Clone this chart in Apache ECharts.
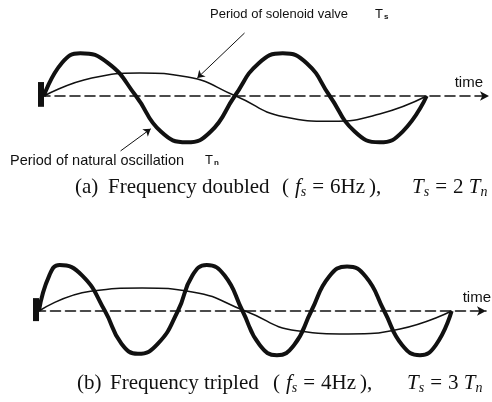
<!DOCTYPE html>
<html>
<head>
<meta charset="utf-8">
<title>Period of solenoid valve vs natural oscillation</title>
<script src="https://cdn.jsdelivr.net/npm/echarts@6.0.0/dist/echarts.min.js"></script>
<style>
  html, body { margin: 0; padding: 0; background: #fff; }
  #chart { width: 492px; height: 402px; }
</style>
</head>
<body>
<div id="chart"></div>
<script>
// time is in units of Tn, amplitude is relative to the natural oscillation peak

// (a) frequency doubled, Ts = 2 Tn
const naturalA = [[0, 0], [0.095, 0.74], [0.19, 0.95], [0.335, 0.73], [0.48, 0], [0.61, -0.79],
  [0.745, -1.03], [0.87, -0.79], [0.995, 0], [1.12, 0.73], [1.245, 0.95], [1.37, 0.73],
  [1.49, 0], [1.62, -0.79], [1.75, -1.03], [1.87, -0.79], [1.995, 0]]
const valveA = [[0, 0], [0.25, 0.4], [0.5, 0.51], [0.75, 0.42], [1.0, 0],
  [1.25, -0.46], [1.5, -0.56], [1.75, -0.4], [1.995, 0]]

// (b) frequency tripled, Ts = 3 Tn
const naturalB = [[0, 0], [0.075, 0.77], [0.15, 1.0], [0.315, 0.77], [0.48, 0], [0.6, -0.71],
  [0.72, -0.93], [0.865, -0.71], [1.01, 0], [1.115, 0.77], [1.22, 1.0], [1.35, 0.77],
  [1.48, 0], [1.605, -0.74], [1.73, -0.96], [1.855, -0.74], [1.98, 0], [2.11, 0.75],
  [2.24, 0.97], [2.375, 0.75], [2.51, 0], [2.64, -0.74], [2.77, -0.96], [2.885, -0.74], [3.0, 0]]
const valveB = [[0, 0], [0.375, 0.43], [0.75, 0.5], [1.125, 0.41], [1.5, 0],
  [1.875, -0.43], [2.25, -0.5], [2.625, -0.39], [3.0, 0]]

// start marks and leader arrows (same units)
const startBarA = [[-0.016, -0.24], [-0.016, 0.31]]
const startBarB = [[-0.022, -0.22], [-0.022, 0.28]]
const valveLeaderA = [[1.046, 1.4], [0.8, 0.4]]
const naturalLeaderA = [[0.4, -1.22], [0.557, -0.73]]

const timeName = 'time'
const sans = '"Liberation Sans", Arial, sans-serif'
const serif = '"Liberation Serif", "Times New Roman", serif'
const ink = '#111'

function xAxisOf(gridIndex, min, max, nameGap) {
  return {
    type: 'value', gridIndex: gridIndex, min: min, max: max,
    name: timeName, nameLocation: 'end', nameGap: nameGap,
    nameTextStyle: { fontFamily: sans, fontSize: 15, color: ink, align: 'right', verticalAlign: 'bottom', padding: [0, 0, 6, 0] },
    axisLine: { show: true, onZero: true, symbol: ['none', 'arrow'], symbolSize: [7, 9], lineStyle: { color: ink, width: 1.6, type: [10, 5] } },
    axisTick: { show: false }, axisLabel: { show: false }, splitLine: { show: false }
  }
}

function yAxisOf(gridIndex, min, max) {
  return { type: 'value', gridIndex: gridIndex, min: min, max: max, show: false, splitLine: { show: false } }
}

function seg(pair, width, arrow) {
  return [
    { coord: pair[0], symbol: 'none' },
    { coord: pair[1], symbol: arrow ? 'arrow' : 'none', lineStyle: { width: width, color: ink, type: 'solid' } }
  ]
}

function wave(data, idx, width, marks) {
  const s = {
    type: 'line', xAxisIndex: idx, yAxisIndex: idx, data: data,
    smooth: 0.5, showSymbol: false, clip: false, silent: true,
    lineStyle: { color: ink, width: width }
  }
  if (marks) {
    s.markLine = {
      silent: true, symbolSize: 7, label: { show: false },
      lineStyle: { color: ink, type: 'solid' },
      data: marks
    }
  }
  return s
}

// caption pieces: serif text with italic symbols and subscripts
const capRich = {
  r: { fontFamily: serif, fontSize: 21, fill: ink },
  o: { fontFamily: serif, fontSize: 21, fill: ink, padding: [0, 6, 0, 0] },
  c: { fontFamily: serif, fontSize: 21, fill: ink, padding: [0, 0, 0, 4] },
  i: { fontFamily: serif, fontSize: 21, fontStyle: 'italic', fill: ink },
  e: { fontFamily: serif, fontSize: 21, fill: ink, padding: [0, 6, 0, 6] },
  s: { fontFamily: serif, fontSize: 14, fontStyle: 'italic', fill: ink, padding: [9, 0, 0, 0] }
}
function cap(left, top, text) {
  return { type: 'text', left: left, top: top, style: { text: text, rich: capRich } }
}

const labelRich = (size, gap) => ({
  t: { fontFamily: sans, fontSize: size, fill: ink },
  T: { fontFamily: sans, fontSize: 13, fill: ink, padding: [0, 0, 0, gap] },
  s: { fontFamily: sans, fontSize: 8, fontWeight: 'bold', fill: ink, padding: [5, 0, 0, 1] }
})

const chart = echarts.init(document.getElementById('chart'))
chart.setOption({
  animation: false,
  backgroundColor: '#fff',
  grid: [
    { left: 40, right: 3, top: 24, height: 144 },
    { left: 35.5, right: 3, top: 255.8, height: 110.4 }
  ],
  xAxis: [xAxisOf(0, -0.02, 2.32, -6), xAxisOf(1, -0.025, 3.25, 5)],
  yAxis: [yAxisOf(0, -1.6, 1.6), yAxisOf(1, -1.2, 1.2)],
  series: [
    wave(naturalA, 0, 4, [seg(startBarA, 6, false)]),
    wave(valveA, 0, 1.5, [seg(valveLeaderA, 1, true), seg(naturalLeaderA, 1, true)]),
    wave(naturalB, 1, 4, [seg(startBarB, 6, false)]),
    wave(valveB, 1, 1.5)
  ],
  graphic: [
    { type: 'text', left: 210, top: 8, style: { text: '{t|Period of solenoid valve}{T|T}{s|s}', rich: labelRich(13, 27) } },
    { type: 'text', left: 10, top: 153, style: { text: '{t|Period of natural oscillation}{T|T}{s|n}', rich: labelRich(14.5, 21) } },
    cap(75, 177, '{r|(a)}'),
    cap(108, 177, '{r|Frequency doubled}'),
    cap(282, 177, '{o|(}{i|f}{s|s}{e|=}{r|6Hz}{c|)}{r|,}'),
    cap(412, 177, '{i|T}{s|s}{e|=}{r|2 }{i|T}{s|n}'),
    cap(77, 373, '{r|(b)}'),
    cap(110, 373, '{r|Frequency tripled}'),
    cap(273, 373, '{o|(}{i|f}{s|s}{e|=}{r|4Hz}{c|)}{r|,}'),
    cap(407, 373, '{i|T}{s|s}{e|=}{r|3 }{i|T}{s|n}')
  ]
})
</script>
</body>
</html>
